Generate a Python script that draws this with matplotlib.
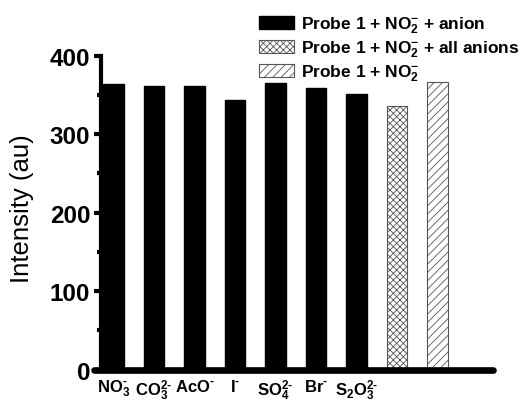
import matplotlib
matplotlib.use('Agg')
import matplotlib.pyplot as plt
from matplotlib.patches import Patch
from matplotlib.ticker import MultipleLocator

plt.rcParams['font.family'] = ['Liberation Sans', 'DejaVu Sans']
plt.rcParams['mathtext.fontset'] = 'custom'
plt.rcParams['mathtext.rm'] = 'Liberation Sans:bold'
plt.rcParams['mathtext.bf'] = 'Liberation Sans:bold'
plt.rcParams['mathtext.it'] = 'Liberation Sans:bold'
plt.rcParams['mathtext.default'] = 'rm'
plt.rcParams['hatch.linewidth'] = 0.6

# data
anions = [r'$NO_3^{\text{-}}$', r'$CO_3^{2\text{-}}$', r'$AcO^{\text{-}}$', r'$I^{\text{-}}$',
          r'$SO_4^{2\text{-}}$', r'$Br^{\text{-}}$', r'$S_2O_3^{2\text{-}}$']
anion_vals = [364, 362, 362, 343, 365, 359, 351]
all_anions_val = 336
probe_no2_val = 366
legend_labels = [r'Probe 1 + NO$_2^{-}$ + anion',
                 r'Probe 1 + NO$_2^{-}$ + all anions',
                 r'Probe 1 + NO$_2^{-}$']

fig = plt.figure(figsize=(5.23, 4.06), dpi=100)
ax = fig.add_axes([94/523, 0.0874, (493-94)/523, 0.8603-0.0874])

n = len(anions)
w = 0.5
ax.bar(range(n), anion_vals, width=w, color='black', edgecolor='black', zorder=2)
ax.bar([n], [all_anions_val], width=w, color='white', edgecolor='#555555',
       hatch='xxxxx', linewidth=0.8, zorder=2)
ax.bar([n + 1], [probe_no2_val], width=w, color='white', edgecolor='#555555',
       hatch='////', linewidth=0.8, zorder=2)

ax.set_xlim(-0.48, 9.37)
ax.set_ylim(0, 400)

for s in ['top', 'right']:
    ax.spines[s].set_visible(False)
ax.spines['left'].set_position(('data', -0.3))
ax.spines['left'].set_linewidth(3.0)
ax.spines['bottom'].set_linewidth(4.8)
ax.spines['bottom'].set_capstyle('round')
ax.spines['bottom'].set_zorder(3)

ax.yaxis.set_major_locator(MultipleLocator(100))
ax.yaxis.set_minor_locator(MultipleLocator(50))
ax.tick_params(axis='y', which='major', length=5, width=3, pad=3, labelsize=17.5)
ax.tick_params(axis='y', which='minor', length=3, width=3)
for t in ax.get_yticklabels():
    t.set_fontweight('bold')

ax.set_xticks(range(n))
ax.set_xticklabels(anions, fontsize=12)
ax.tick_params(axis='x', length=0, pad=6)

ax.set_ylabel('Intensity (au)', fontsize=18.5)
ax.yaxis.set_label_coords(-0.15, 0.515)

handles = [Patch(facecolor='black', edgecolor='black'),
           Patch(facecolor='white', edgecolor='#555555', hatch='xxxxx', linewidth=0.8),
           Patch(facecolor='white', edgecolor='#555555', hatch='////', linewidth=0.8)]
leg = fig.legend(handles, legend_labels, loc='upper left',
                 bbox_to_anchor=(256/523, 1 - 12/406), frameon=False,
                 prop={'weight': 'bold', 'size': 12.5}, handlelength=2.0,
                 handleheight=0.8, handletextpad=0.4, labelspacing=0.2,
                 borderaxespad=0, borderpad=0.2)

fig.savefig('out.png', dpi=100)
